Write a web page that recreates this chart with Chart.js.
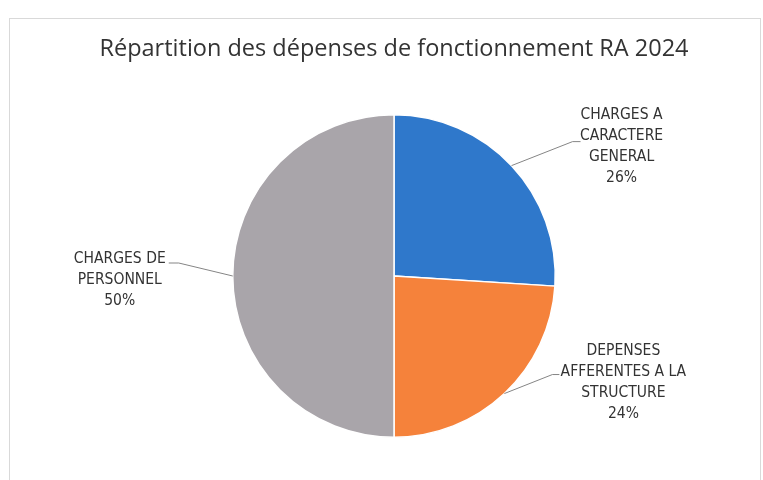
<!DOCTYPE html>
<html>
<head>
<meta charset="utf-8">
<script src="https://cdn.jsdelivr.net/npm/chart.js@4.4.1/dist/chart.umd.min.js"></script>
<style>
  html, body { margin: 0; padding: 0; background: #fff; }
  #wrap { width: 763px; height: 480px; position: relative; }
</style>
</head>
<body>
<div id="wrap"><canvas id="chart"></canvas></div>
<script>
/* data */
const TITLE = 'Répartition des dépenses de fonctionnement RA 2024';
const CATEGORIES = [
  ['CHARGES A', 'CARACTERE', 'GENERAL'],
  ['DEPENSES', 'AFFERENTES A LA', 'STRUCTURE'],
  ['CHARGES DE', 'PERSONNEL'],
];
const VALUES = [26, 24, 50];

/* styles */
const COLORS = ['#2f78cb', '#f5823b', '#a9a5aa'];
const LABEL_FONT = "15.5px 'Liberation Sans Narrow', 'DejaVu Sans Condensed', sans-serif";
const TEXT_COLOR = '#333333';
// offsets from the slice's outer mid point: elbow of leader, end of leader, first text line centre
const LABEL_LAYOUT = [
  { elbow: [61, -24], end: 69, text: [110, -51] },
  { elbow: [48, -19], end: 55, text: [119, -43] },
  { elbow: [-54, -13], end: -64, text: [-113, -17] },
];
const LINE_H = 21;

/* ── chart frame ─────────────────────────────────────────────── */
const frame = {
  id: 'frame',
  beforeDraw(chart) {
    const ctx = chart.ctx;
    ctx.save();
    ctx.strokeStyle = '#d9d9d9';
    ctx.lineWidth = 1;
    ctx.strokeRect(9.5, 18.5, 751, 480);
    ctx.restore();
  },
};

/* ── outside labels with leader lines ────────────────────────── */
const sliceLabels = {
  id: 'sliceLabels',
  afterDatasetsDraw(chart) {
    const ctx = chart.ctx;
    const meta = chart.getDatasetMeta(0);
    const total = VALUES.reduce((a, b) => a + b, 0);
    ctx.save();
    meta.data.forEach((arc, i) => {
      const { x, y, startAngle, endAngle, outerRadius } =
        arc.getProps(['x', 'y', 'startAngle', 'endAngle', 'outerRadius'], true);
      const mid = (startAngle + endAngle) / 2;
      const px = x + Math.cos(mid) * outerRadius;
      const py = y + Math.sin(mid) * outerRadius;
      const L = LABEL_LAYOUT[i];

      ctx.strokeStyle = '#858585';
      ctx.lineWidth = 1;
      ctx.beginPath();
      ctx.moveTo(px, py);
      ctx.lineTo(px + L.elbow[0], py + L.elbow[1]);
      ctx.lineTo(px + L.end, py + L.elbow[1]);
      ctx.stroke();

      const lines = [...CATEGORIES[i], Math.round(VALUES[i] / total * 100) + '%'];
      ctx.fillStyle = TEXT_COLOR;
      ctx.font = LABEL_FONT;
      ctx.textAlign = 'center';
      ctx.textBaseline = 'middle';
      lines.forEach((t, k) => ctx.fillText(t, px + L.text[0], py + L.text[1] + k * LINE_H));
    });
    ctx.restore();
  },
};

new Chart(document.getElementById('chart'), {
  type: 'pie',
  data: {
    labels: CATEGORIES.map(c => c.join(' ')),
    datasets: [{
      data: VALUES,
      backgroundColor: COLORS,
      borderColor: '#ffffff',
      borderWidth: 1.5,
    }],
  },
  options: {
    responsive: true,
    maintainAspectRatio: false,
    animation: false,
    layout: { padding: { left: 25, right: 0, top: 0, bottom: 42 } },
    plugins: {
      legend: { display: false },
      tooltip: { enabled: false },
      title: {
        display: true,
        text: TITLE,
        color: '#333333',
        font: { family: "'Open Sans', sans-serif", size: 23.5, weight: 'normal' },
        padding: { top: 35.5, bottom: 50.3 },
      },
    },
  },
  plugins: [frame, sliceLabels],
});
</script>
</body>
</html>
